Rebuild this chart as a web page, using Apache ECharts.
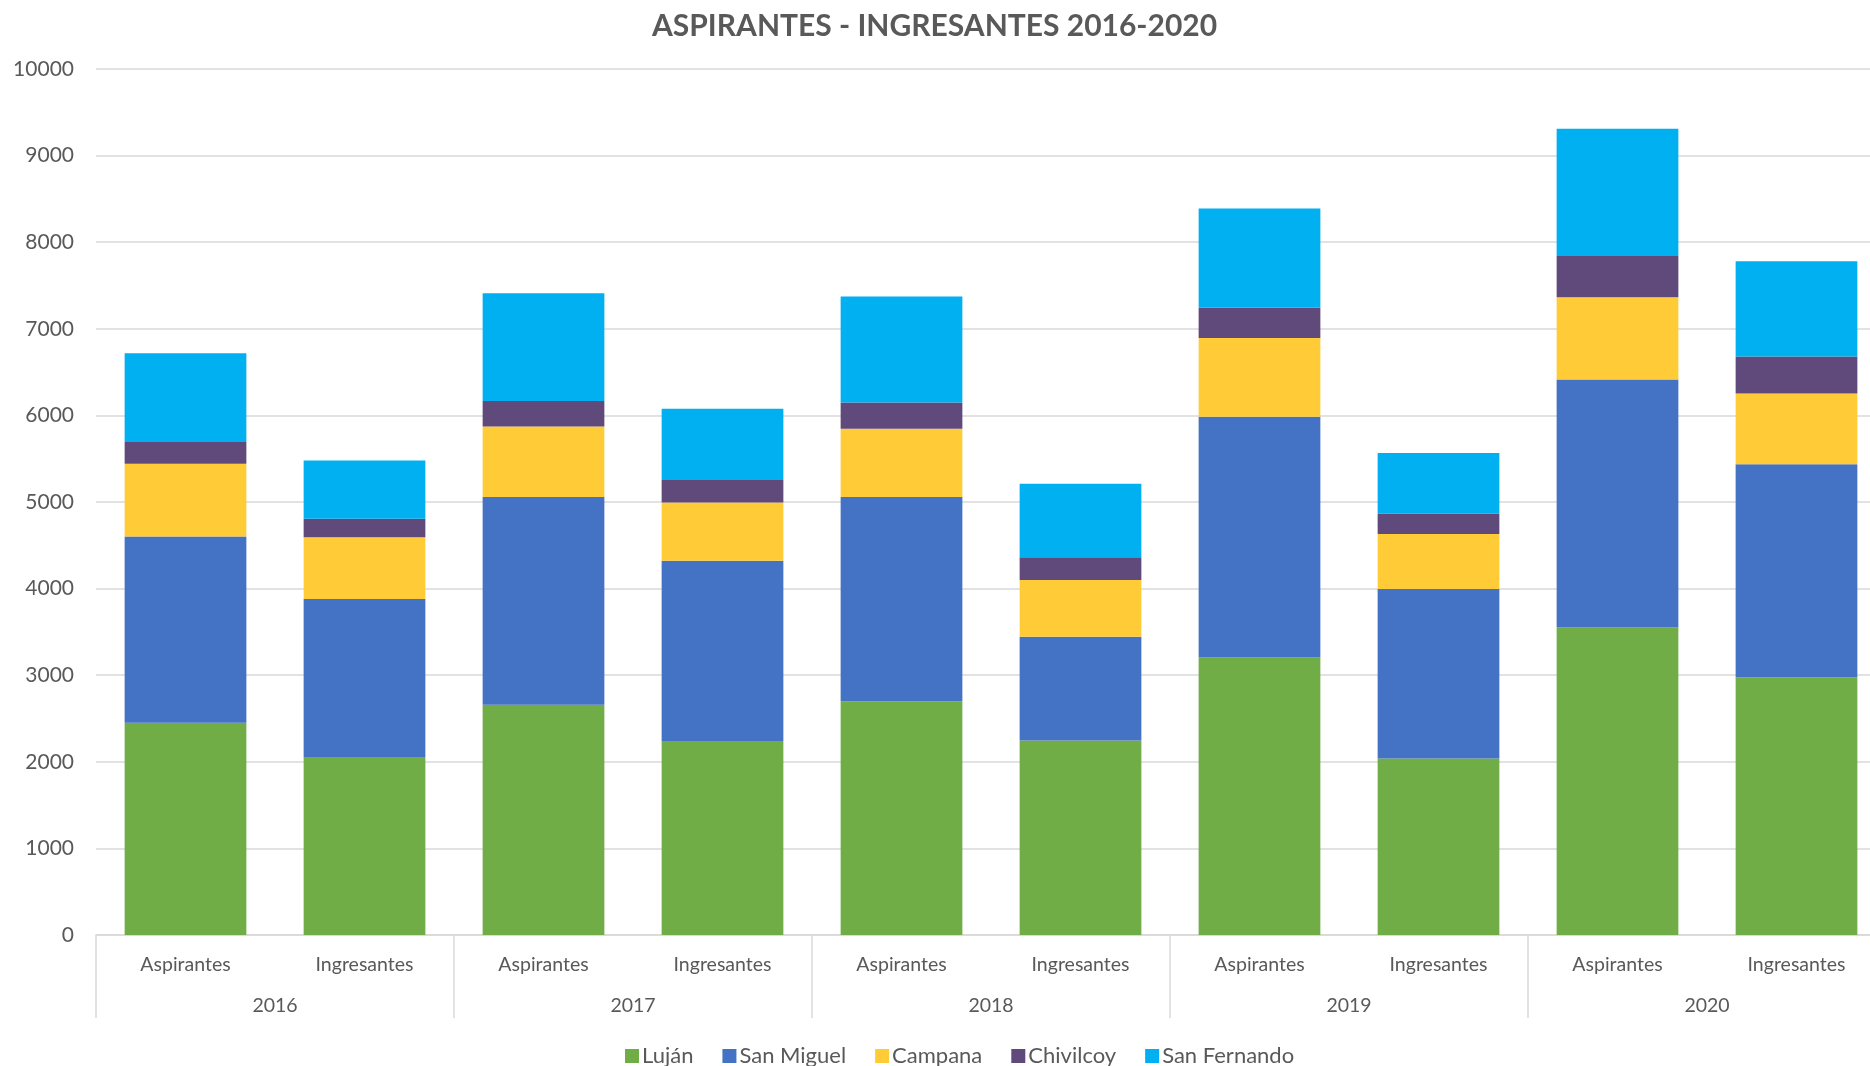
<!DOCTYPE html>
<html lang="es">
<head>
<meta charset="UTF-8">
<script src="https://cdn.jsdelivr.net/npm/echarts@6/dist/echarts.min.js"></script>
<style>
  html, body { margin: 0; padding: 0; background: #fff; }
  #chart { width: 1870px; height: 1066px; }
</style>
</head>
<body>
<div id="chart"></div>
<script>
// datos
var years = ['2016', '2017', '2018', '2019', '2020'];
var groups = ['Aspirantes', 'Ingresantes', 'Aspirantes', 'Ingresantes', 'Aspirantes', 'Ingresantes', 'Aspirantes', 'Ingresantes', 'Aspirantes', 'Ingresantes'];
var yTicks = [0, 1000, 2000, 3000, 4000, 5000, 6000, 7000, 8000, 9000, 10000];

var lujan       = [2450, 2055, 2660, 2240, 2700, 2245, 3205, 2037, 3550, 2977];
var sanMiguel   = [2151, 1826, 2397, 2082, 2358, 1199, 2780, 1957, 2865, 2458];
var campana     = [840, 713, 814, 671, 789, 656, 908, 636, 950, 819];
var chivilcoy   = [251, 214, 296, 261, 301, 261, 351, 238, 475, 425];
var sanFernando = [1027, 671, 1243, 824, 1224, 849, 1146, 698, 1470, 1101];

var font = 'Lato';
var txt = '#595959';
var line = '#d9d9d9';

function serie(name, data, color) {
    return {
        name: name,
        type: 'bar',
        stack: 'total',
        barWidth: '68%',
        data: data,
        itemStyle: { color: color },
        emphasis: { disabled: true }
    };
}

var chart = echarts.init(document.getElementById('chart'));
chart.setOption({
    animation: false,
    textStyle: { fontFamily: font },
    title: {
        text: 'ASPIRANTES - INGRESANTES 2016-2020',
        left: 647,
        top: 6,
        textStyle: { fontFamily: font, fontSize: 30, fontWeight: 'bold', color: txt }
    },
    legend: {
        left: 620,
        top: 1040,
        icon: 'rect',
        itemWidth: 14,
        itemHeight: 14,
        itemGap: 29,
        textStyle: { fontFamily: font, fontSize: 22, color: txt, padding: [0, 0, 0, -2] },
        data: ['Luján', 'San Miguel', 'Campana', 'Chivilcoy', 'San Fernando']
    },
    grid: { left: 96, top: 69, width: 1790, bottom: 131, outerBoundsMode: 'none' },
    xAxis: [
        {
            type: 'category',
            data: groups,
            axisLine: { lineStyle: { color: line, width: 1.5 } },
            axisTick: { show: false },
            axisLabel: { color: txt, fontSize: 19.5, margin: 20, interval: 0 }
        },
        {
            type: 'category',
            data: years,
            position: 'bottom',
            axisLine: { show: false },
            axisTick: { show: true, length: 83, lineStyle: { color: line, width: 1.5 } },
            axisLabel: { color: txt, fontSize: 19.5, margin: 61, interval: 0 }
        }
    ],
    yAxis: {
        type: 'value',
        min: yTicks[0],
        max: yTicks[yTicks.length - 1],
        interval: 1000,
        axisLine: { show: false },
        axisTick: { show: false },
        axisLabel: { color: txt, fontSize: 21, margin: 22, formatter: function (v) { return String(v); } },
        splitLine: { lineStyle: { color: line, width: 1.5 } }
    },
    series: [
        serie('Luján', lujan, '#70ad47'),
        serie('San Miguel', sanMiguel, '#4472c4'),
        serie('Campana', campana, '#ffcc38'),
        serie('Chivilcoy', chivilcoy, '#604a7b'),
        serie('San Fernando', sanFernando, '#00b0f0')
    ]
});
</script>
</body>
</html>
